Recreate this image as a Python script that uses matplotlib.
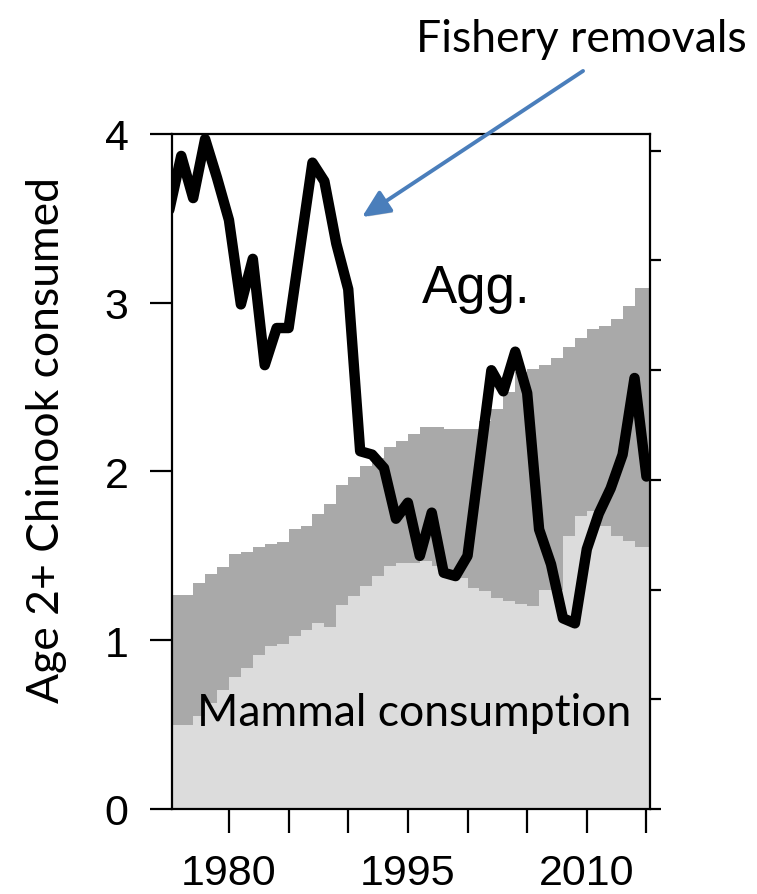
import numpy as np
import matplotlib
matplotlib.use("Agg")
import matplotlib.pyplot as plt
from matplotlib.patches import FancyArrowPatch
import matplotlib.patheffects as pe

# --- data ---
years = np.arange(1975, 2016)          # 1975..2015, one value per year
removals = [3.55, 3.87, 3.62, 3.97, 3.74, 3.49, 2.99, 3.26, 2.63, 2.85,
            2.85, 3.34, 3.83, 3.72, 3.35, 3.08, 2.12, 2.10, 2.02, 1.72,
            1.815, 1.50, 1.756, 1.40, 1.38, 1.50, 2.05, 2.60, 2.475, 2.71,
            2.465, 1.657, 1.45, 1.13, 1.10, 1.54, 1.75, 1.90, 2.10, 2.554, 1.97]

# stepped bands, one bin per year (edges 1975..2016)
band_edges = np.arange(1975, 2017)
band_lower = [0.50, 0.50, 0.55, 0.63, 0.705, 0.785, 0.837, 0.911, 0.966, 0.976,
              1.026, 1.06, 1.10, 1.08, 1.21, 1.262, 1.32, 1.38, 1.44, 1.455,
              1.455, 1.47, 1.44, 1.41, 1.37, 1.31, 1.29, 1.25, 1.232, 1.213,
              1.203, 1.30, 1.30, 1.617, 1.735, 1.765, 1.676, 1.617, 1.587, 1.553,
              1.553]
band_upper = [1.266, 1.266, 1.341, 1.39, 1.434, 1.509, 1.52, 1.55, 1.57, 1.58,
              1.657, 1.676, 1.746, 1.81, 1.92, 1.97, 2.03, 2.08, 2.145, 2.18,
              2.225, 2.263, 2.263, 2.25, 2.25, 2.25, 2.30, 2.37, 2.47, 2.59,
              2.607, 2.633, 2.672, 2.74, 2.79, 2.846, 2.86, 2.905, 2.98, 3.087,
              3.087]

xticks = [1980, 1985, 1990, 1995, 2000, 2005, 2010, 2015]
xticklabels = ["1980", "", "", "1995", "", "", "2010", ""]
yticks = [0, 1, 2, 3, 4]

LIGHT = "#dcdcdc"
DARK = "#a9a9a9"
ANNOT_FONT = ["Lato", "DejaVu Sans"]
AXIS_FONT = ["Liberation Sans", "DejaVu Sans"]

fig = plt.figure(figsize=(7.57, 8.95), dpi=100)
ax = fig.add_axes([0.2268, 0.095, 0.6319, 0.7542])

ax.stairs(band_lower, band_edges, baseline=0, fill=True, color=LIGHT, lw=0)
ax.stairs(band_upper, band_edges, baseline=band_lower, fill=True, color=DARK, lw=0)
ax.plot(years, removals, color="black", lw=7.5, solid_joinstyle="round",
        solid_capstyle="round", zorder=3)

ax.set_xlim(1975.2, 2015.3)
ax.set_ylim(0, 4)
ax.set_xticks(xticks)
ax.set_xticklabels(xticklabels, fontfamily=AXIS_FONT, fontsize=31)
ax.set_yticks(yticks)
ax.set_yticklabels([str(v) for v in yticks], fontfamily=AXIS_FONT, fontsize=31)
ax.tick_params(axis="x", direction="out", length=17, width=1.6, pad=15)
ax.tick_params(axis="y", direction="out", length=16, width=1.6, pad=15)
for s in ax.spines.values():
    s.set_linewidth(1.6)
    s.set_zorder(5)

# unlabeled right-hand axis ticks
ax2 = ax.twinx()
ax2.set_ylim(0, 6.153)
ax2.set_yticks(range(7))
ax2.set_yticklabels([])
ax2.tick_params(axis="y", direction="out", length=8, width=1.6)
for s in ax2.spines.values():
    s.set_visible(False)

# text annotations
fig.text(0.062, 0.508, "Age 2+ Chinook consumed", rotation=90, ha="center",
         va="center", fontsize=32, fontfamily=ANNOT_FONT)
fig.text(0.557, 0.661, "Agg.", ha="left", va="baseline", fontsize=38,
         fontfamily=AXIS_FONT)
fig.text(0.260, 0.189, "Mammal consumption", ha="left", va="baseline",
         fontsize=32, fontfamily=ANNOT_FONT)
fig.text(0.768, 0.942, "Fishery removals", ha="center", va="baseline",
         fontsize=32, fontfamily=ANNOT_FONT)

arrow = FancyArrowPatch((0.7702, 0.9196), (0.4782, 0.7564),
                        transform=fig.transFigure,
                        arrowstyle="-|>,head_length=0.7,head_width=0.32",
                        mutation_scale=24, color="#4a7ebb", lw=2.8,
                        shrinkA=0, shrinkB=0)
arrow.set_path_effects([pe.SimplePatchShadow(offset=(1.5, -1.5), alpha=0.25),
                        pe.Normal()])
fig.add_artist(arrow)

fig.savefig("out.png", dpi=100)
